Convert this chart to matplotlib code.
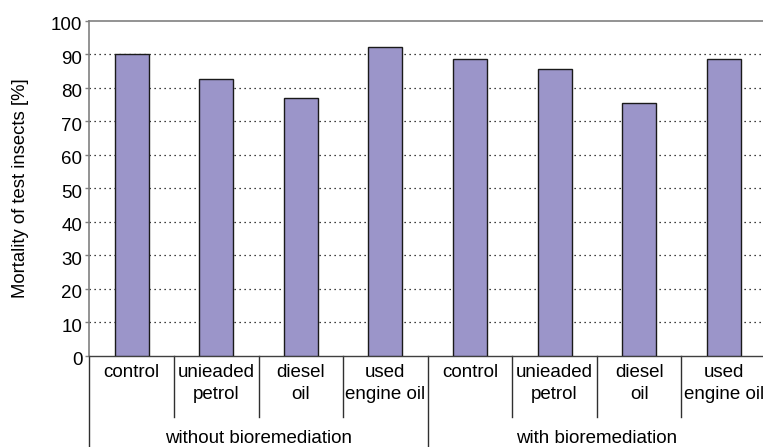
import numpy as np
import matplotlib.pyplot as plt
import matplotlib.transforms as mtransforms

plt.rcParams["font.family"] = ["Liberation Sans", "DejaVu Sans"]

# data
categories = ["control", "unieaded\npetrol", "diesel\noil", "used\nengine oil"]
groups = ["without bioremediation", "with bioremediation"]
mortality_without = [90.0, 82.7, 77.0, 92.2]
mortality_with = [88.5, 85.7, 75.5, 88.5]
yticks = [0, 10, 20, 30, 40, 50, 60, 70, 80, 90, 100]

bar_color = "#9b95c9"

fig = plt.figure(figsize=(7.63, 4.47), dpi=100)
ax_w = 8 * 84.6 / 763
ax = fig.add_axes([89.3 / 763, 1 - 355.7 / 447, ax_w, (355.7 - 21) / 447])

values = mortality_without + mortality_with
labels = categories + categories
x = np.arange(len(values)) + 0.5
ax.bar(x, values, width=0.4, color=bar_color, edgecolor="#1a1a1a", linewidth=1.0, zorder=3)

ax.set_xlim(0, len(values))
ax.set_ylim(0, 100)
ax.set_yticks(yticks)
ax.tick_params(axis="y", labelsize=13.5, length=3, width=1, color="#808080", pad=2)
ax.set_xticks([])
# nudge tick labels down a little, like the original
shift = mtransforms.ScaledTranslation(0, -3 / 100, fig.dpi_scale_trans)
for lab in ax.get_yticklabels():
    lab.set_transform(lab.get_transform() + shift)

for y in yticks[1:-1]:
    ax.axhline(y, color="black", linestyle=(0, (1, 3)), linewidth=0.9, zorder=1)

ax.spines["right"].set_visible(False)
ax.spines["top"].set_color("#808080")
ax.spines["left"].set_color("#808080")
ax.spines["bottom"].set_color("#404040")
ax.spines["top"].set_linewidth(1.2)
ax.spines["left"].set_linewidth(1.2)
ax.spines["bottom"].set_linewidth(1.0)

ax.set_ylabel("Mortality of test insects [%]", fontsize=13.3, labelpad=16)

# category axis below the plot
trans = mtransforms.blended_transform_factory(ax.transData, ax.transAxes)
h_px = 355.7 - 21
for i in range(1, len(values)):
    if i % 4 == 0:
        continue
    ax.plot([i, i], [0, -61 / h_px], transform=trans, color="#303030", linewidth=1.0, clip_on=False)
for i in [0, 4, 8]:
    ax.plot([i, i], [0, -95 / h_px], transform=trans, color="#303030", linewidth=1.0, clip_on=False)

for xi, lab in zip(x, labels):
    ax.text(xi, -8 / h_px, lab, transform=trans, ha="center", va="top", fontsize=13.5, linespacing=1.4)

for g, lab in enumerate(groups):
    ax.text(4 * g + 2, -83 / h_px, lab, transform=trans, ha="center", va="center", fontsize=13.5)

fig.savefig("out.png", dpi=100)
